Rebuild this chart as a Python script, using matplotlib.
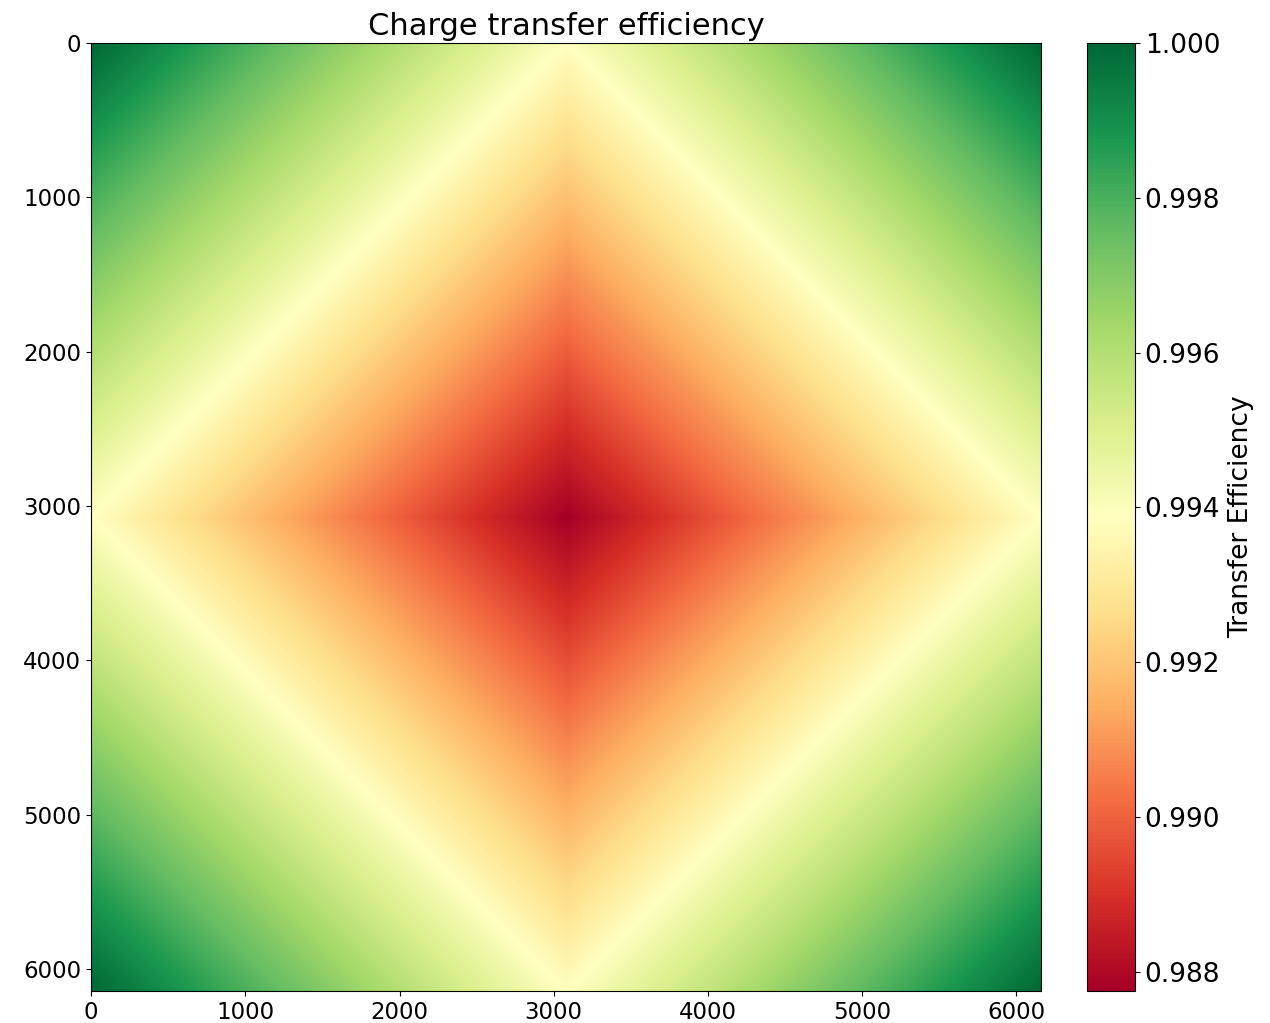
import numpy as np
import matplotlib
matplotlib.use("Agg")
from matplotlib import pyplot as plt

# detector geometry and per-transfer efficiency (4-quadrant readout, one amp per corner)
n_cols = 6160
n_rows = 6144
cte = 0.999998
step = 8  # subsample the pixel grid, the full one is too heavy

vmin = 0.98775
vmax = 1.0
cbar_ticks = [0.988, 0.990, 0.992, 0.994, 0.996, 0.998, 1.000]
x_ticks = [0, 1000, 2000, 3000, 4000, 5000, 6000]
y_ticks = [0, 1000, 2000, 3000, 4000, 5000, 6000]

cols = np.arange(0, n_cols, step)
rows = np.arange(0, n_rows, step)
# number of transfers to the nearest corner amplifier
dx = np.minimum(cols, n_cols - 1 - cols)
dy = np.minimum(rows, n_rows - 1 - rows)
transfers = dy[:, None] + dx[None, :]
efficiency = cte ** transfers

fig = plt.figure(figsize=(12.7, 10.23), dpi=100)
ax = fig.add_axes([91 / 1270, 32 / 1023, 950 / 1270, 948 / 1023])
cax = fig.add_axes([1087 / 1270, 32 / 1023, 48 / 1270, 948 / 1023])

im = ax.imshow(efficiency, cmap="RdYlGn", vmin=vmin, vmax=vmax,
               extent=(-0.5, n_cols - 0.5, n_rows - 0.5, -0.5),
               interpolation="bilinear", aspect="auto")
ax.set_xticks(x_ticks)
ax.set_yticks(y_ticks)
ax.tick_params(labelsize=16.5)
ax.set_title("Charge transfer efficiency", fontsize=22, pad=6)

cb = fig.colorbar(im, cax=cax)
cb.set_ticks(cbar_ticks)
cb.ax.set_yticklabels(["%.3f" % t for t in cbar_ticks])
cb.ax.tick_params(labelsize=19)
cb.set_label("Transfer Efficiency", fontsize=19, labelpad=6)

fig.savefig("out.png", dpi=100)
